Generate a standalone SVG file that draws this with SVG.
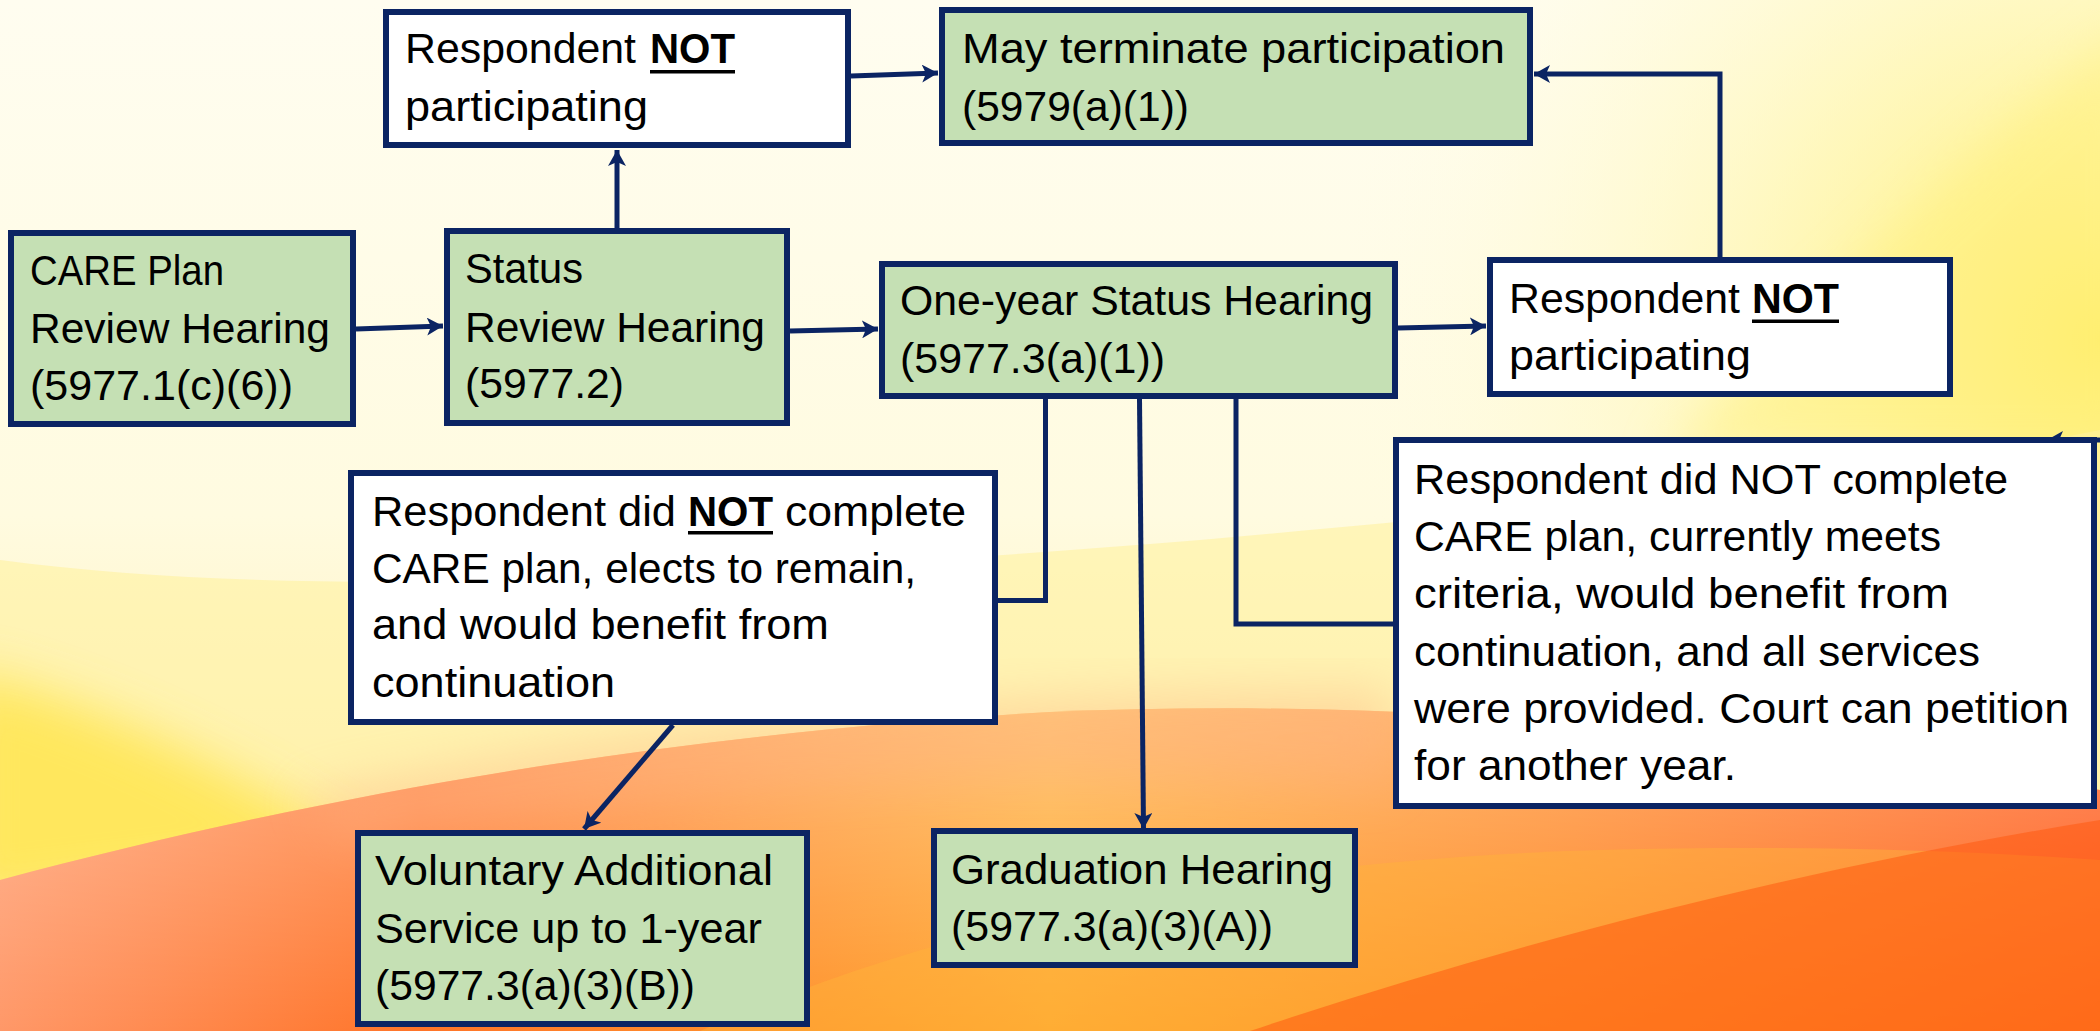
<svg xmlns="http://www.w3.org/2000/svg" width="2100" height="1031" viewBox="0 0 2100 1031">
<defs>
<linearGradient id="bgV" x1="0" y1="0" x2="0" y2="1">
<stop offset="0" stop-color="#fffdf0"/>
<stop offset="0.5" stop-color="#fffbe0"/>
<stop offset="1" stop-color="#ffe8a0"/>
</linearGradient>
<radialGradient id="glow" cx="2100" cy="340" r="760" gradientUnits="userSpaceOnUse">
<stop offset="0" stop-color="#ffec60" stop-opacity="0.95"/>
<stop offset="0.45" stop-color="#fff49a" stop-opacity="0.55"/>
<stop offset="1" stop-color="#fffbe0" stop-opacity="0"/>
</radialGradient>
<linearGradient id="orangeH" x1="0" y1="0" x2="1" y2="0">
<stop offset="0" stop-color="#ff9868"/>
<stop offset="0.2" stop-color="#ff7428"/>
<stop offset="0.5" stop-color="#ffa830"/>
<stop offset="0.75" stop-color="#ff8420"/>
<stop offset="1" stop-color="#ff5512"/>
</linearGradient>
<linearGradient id="orangeV" x1="0" y1="0" x2="0" y2="1">
<stop offset="0" stop-color="#ffffff" stop-opacity="0.35"/>
<stop offset="1" stop-color="#ffffff" stop-opacity="0"/>
</linearGradient>
<filter id="soft" x="-20%" y="-20%" width="140%" height="140%">
<feGaussianBlur stdDeviation="25"/>
</filter>
<marker id="ah" markerUnits="userSpaceOnUse" markerWidth="18" markerHeight="18" refX="16" refY="9" orient="auto">
<path d="M0,0 L16,9 L0,18 L4,9 Z" fill="#0b2463"/>
</marker>
</defs>
<style>
.g{fill:#c5e0b4;stroke:#0b2463;stroke-width:6}
.w{fill:#ffffff;stroke:#0b2463;stroke-width:6}
.t{font-family:'Liberation Sans',Arial,sans-serif;font-size:42px;fill:#000000}
.b{font-weight:bold}
.c{fill:none;stroke:#0b2463;stroke-width:5}
.u{fill:#000000}
</style>
<g id="background">
<rect x="0" y="0" width="2100" height="1031" fill="url(#bgV)"/>
<rect x="0" y="0" width="2100" height="1031" fill="url(#glow)"/>
<path d="M2140,20 C1980,140 1820,300 1660,460 L2140,460 Z" fill="#fff07a" opacity="0.5" filter="url(#soft)"/>
<path d="M0,560 C300,600 700,580 1200,540 C1600,505 1900,470 2100,430 L2100,1031 L0,1031 Z" fill="#fff2a0" opacity="0.6"/>
<path d="M-40,670 C110,705 250,780 380,860 L-40,910 Z" fill="#ffe654" opacity="0.9" filter="url(#soft)"/>
<path d="M0,880 C300,800 650,735 1050,712 C1450,695 1800,740 2100,790 L2100,1031 L0,1031 Z" fill="url(#orangeH)"/>
<path d="M0,880 C300,800 650,735 1050,712 C1450,695 1800,740 2100,790 L2100,1031 L0,1031 Z" fill="url(#orangeV)"/>
<path d="M300,800 C600,730 1000,690 1393,690 L1393,790 C1000,760 650,780 350,850 Z" fill="#ffb080" opacity="0.4" filter="url(#soft)"/>
<path d="M700,1031 C950,920 1250,860 1600,850 C1800,845 1950,850 2100,860 L2100,1031 Z" fill="#ffb43a" opacity="0.45"/>
<path d="M1250,1031 C1550,930 1850,860 2100,820 L2100,1031 Z" fill="#ff5a10" opacity="0.55"/>
</g>
<g id="connectors">
<path class="c" d="M356,329 L443,326" marker-end="url(#ah)"/>
<path class="c" d="M617,228 L617,150" marker-end="url(#ah)"/>
<path class="c" d="M790,331 L878,329" marker-end="url(#ah)"/>
<path class="c" d="M851,76 L938,73" marker-end="url(#ah)"/>
<path class="c" d="M1398,328 L1486,326" marker-end="url(#ah)"/>
<path class="c" d="M1720,257 L1720,74 L1534,74" marker-end="url(#ah)"/>
<path class="c" d="M1045.5,399 L1045.5,600.5 L998,600.5"/>
<path class="c" d="M1236,399 L1236,624 L1393,624"/>
<path class="c" d="M1139.5,399 L1143.5,829" marker-end="url(#ah)"/>
<path class="c" d="M673,725 L584,829" marker-end="url(#ah)"/>
<path class="c" d="M2100,440 L2047,440" marker-end="url(#ah)"/>
</g>
<g id="topNot">
<rect class="w" x="386" y="12" width="462" height="133"/>
<text class="t" x="405" y="63" textLength="231" lengthAdjust="spacingAndGlyphs">Respondent</text>
<text class="t b" x="650" y="63" textLength="85" lengthAdjust="spacingAndGlyphs">NOT</text>
<rect class="u" x="650" y="70" width="85" height="3.5"/>
<text class="t" x="405" y="121" textLength="243" lengthAdjust="spacingAndGlyphs">participating</text>
</g>
<g id="mayTerminate">
<rect class="g" x="942" y="10" width="588" height="133"/>
<text class="t" x="962" y="63" textLength="543" lengthAdjust="spacingAndGlyphs">May terminate participation</text>
<text class="t" x="962" y="121" textLength="227" lengthAdjust="spacingAndGlyphs">(5979(a)(1))</text>
</g>
<g id="carePlan">
<rect class="g" x="11" y="233" width="342" height="191"/>
<text class="t" x="30" y="285" textLength="194" lengthAdjust="spacingAndGlyphs">CARE Plan</text>
<text class="t" x="30" y="343" textLength="300" lengthAdjust="spacingAndGlyphs">Review Hearing</text>
<text class="t" x="30" y="400" textLength="263" lengthAdjust="spacingAndGlyphs">(5977.1(c)(6))</text>
</g>
<g id="statusReview">
<rect class="g" x="447" y="231" width="340" height="192"/>
<text class="t" x="465" y="283" textLength="118" lengthAdjust="spacingAndGlyphs">Status</text>
<text class="t" x="465" y="342" textLength="300" lengthAdjust="spacingAndGlyphs">Review Hearing</text>
<text class="t" x="465" y="398" textLength="159" lengthAdjust="spacingAndGlyphs">(5977.2)</text>
</g>
<g id="oneYear">
<rect class="g" x="882" y="264" width="513" height="132"/>
<text class="t" x="900" y="315" textLength="473" lengthAdjust="spacingAndGlyphs">One-year Status Hearing</text>
<text class="t" x="900" y="373" textLength="265" lengthAdjust="spacingAndGlyphs">(5977.3(a)(1))</text>
</g>
<g id="rightNot">
<rect class="w" x="1490" y="260" width="460" height="134"/>
<text class="t" x="1509" y="313" textLength="231" lengthAdjust="spacingAndGlyphs">Respondent</text>
<text class="t b" x="1752" y="313" textLength="87" lengthAdjust="spacingAndGlyphs">NOT</text>
<rect class="u" x="1752" y="319.5" width="87" height="3.5"/>
<text class="t" x="1509" y="370" textLength="242" lengthAdjust="spacingAndGlyphs">participating</text>
</g>
<g id="leftMid">
<rect class="w" x="351" y="473" width="644" height="249"/>
<text class="t" x="372" y="526" textLength="304" lengthAdjust="spacingAndGlyphs">Respondent did</text>
<text class="t b" x="688" y="526" textLength="85" lengthAdjust="spacingAndGlyphs">NOT</text>
<rect class="u" x="688" y="531" width="85" height="3.5"/>
<text class="t" x="785" y="526" textLength="181" lengthAdjust="spacingAndGlyphs">complete</text>
<text class="t" x="372" y="583" textLength="544" lengthAdjust="spacingAndGlyphs">CARE plan, elects to remain,</text>
<text class="t" x="372" y="639" textLength="457" lengthAdjust="spacingAndGlyphs">and would benefit from</text>
<text class="t" x="372" y="697" textLength="243" lengthAdjust="spacingAndGlyphs">continuation</text>
</g>
<g id="rightMid">
<rect class="w" x="1396" y="440" width="698" height="366"/>
<text class="t" x="1414" y="494" textLength="594" lengthAdjust="spacingAndGlyphs">Respondent did NOT complete</text>
<text class="t" x="1414" y="551" textLength="527" lengthAdjust="spacingAndGlyphs">CARE plan, currently meets</text>
<text class="t" x="1414" y="608" textLength="535" lengthAdjust="spacingAndGlyphs">criteria, would benefit from</text>
<text class="t" x="1414" y="666" textLength="566" lengthAdjust="spacingAndGlyphs">continuation, and all services</text>
<text class="t" x="1414" y="723" textLength="655" lengthAdjust="spacingAndGlyphs">were provided. Court can petition</text>
<text class="t" x="1414" y="780" textLength="322" lengthAdjust="spacingAndGlyphs">for another year.</text>
</g>
<g id="voluntary">
<rect class="g" x="358" y="833" width="449" height="191"/>
<text class="t" x="375" y="885" textLength="398" lengthAdjust="spacingAndGlyphs">Voluntary Additional</text>
<text class="t" x="375" y="943" textLength="387" lengthAdjust="spacingAndGlyphs">Service up to 1-year</text>
<text class="t" x="375" y="1000" textLength="320" lengthAdjust="spacingAndGlyphs">(5977.3(a)(3)(B))</text>
</g>
<g id="graduation">
<rect class="g" x="934" y="831" width="421" height="134"/>
<text class="t" x="951" y="884" textLength="382" lengthAdjust="spacingAndGlyphs">Graduation Hearing</text>
<text class="t" x="951" y="941" textLength="322" lengthAdjust="spacingAndGlyphs">(5977.3(a)(3)(A))</text>
</g>
</svg>
